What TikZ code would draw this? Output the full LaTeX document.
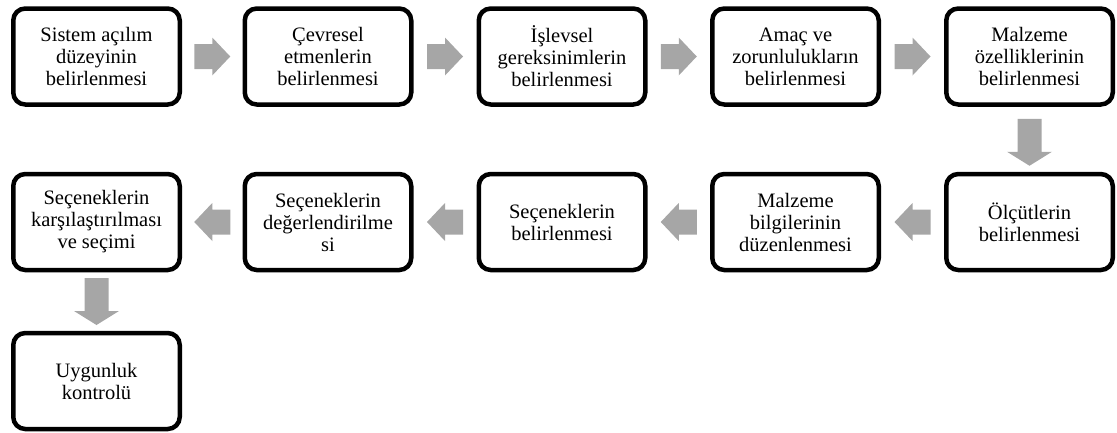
\documentclass[tikz,border=0pt]{standalone}
\usepackage{fontspec}
\setmainfont{Liberation Serif}
\usetikzlibrary{calc}

\definecolor{arrowgray}{RGB}{166,166,166}

\tikzset{
  stepbox/.style={draw=black, line width=4.5pt, rounded corners=12pt,
    minimum width=166.5pt, minimum height=96pt, inner sep=0pt,
    align=center, font=\fontsize{20.5}{22}\selectfont, text=black},
  % block arrows centred on a coordinate
  rarrow/.pic={\fill[arrowgray] (-18,-12.5) -- (0,-12.5) -- (0,-19) -- (18,0)
      -- (0,19) -- (0,12.5) -- (-18,12.5) -- cycle;},
  larrow/.pic={\fill[arrowgray] (18,-12.5) -- (0,-12.5) -- (0,-19) -- (-18,0)
      -- (0,19) -- (0,12.5) -- (18,12.5) -- cycle;},
  darrow/.pic={\fill[arrowgray] (-12,-23.5) -- (12,-23.5) -- (12,9.5) -- (22.5,9.5)
      -- (0,23.5) -- (-22.5,9.5) -- (-12,9.5) -- cycle;},
}

\begin{document}
\begin{tikzpicture}[x=1pt, y=-1pt]
  \useasboundingbox (0,0) rectangle (1117,432);

  % first row, left to right
  \node[stepbox] (s1) at (96.5,56.5) {Sistem açılım\\düzeyinin\\belirlenmesi};
  \node[stepbox] (s2) at (328,56.5) {Çevresel\\etmenlerin\\belirlenmesi};
  \node[stepbox] (s3) at (562,56.5) {İşlevsel\\gereksinimlerin\\belirlenmesi};
  \node[stepbox] (s4) at (795.5,56.5) {Amaç ve\\zorunlulukların\\belirlenmesi};
  \node[stepbox] (s5) at (1029.5,56.5) {Malzeme\\özelliklerinin\\belirlenmesi};

  % second row, right to left
  \node[stepbox] (s6) at (1029.5,222) {Ölçütlerin\\belirlenmesi};
  \node[stepbox] (s7) at (795.5,222) {Malzeme\\bilgilerinin\\düzenlenmesi};
  \node[stepbox] (s8) at (562,222) {Seçeneklerin\\belirlenmesi};
  \node[stepbox] (s9) at (328,222) {Seçeneklerin\\değerlendirilme\\si};
  \node[stepbox] (s10) at (96.5,222) {Seçeneklerin\\karşılaştırılması\\ve seçimi};

  % last step
  \node[stepbox] (s11) at (96.5,381) {Uygunluk\\kontrolü};

  % arrows between the steps
  \pic at ($(s1.east)!0.5!(s2.west)$) {rarrow};
  \pic at ($(s2.east)!0.5!(s3.west)$) {rarrow};
  \pic at ($(s3.east)!0.5!(s4.west)$) {rarrow};
  \pic at ($(s4.east)!0.5!(s5.west)$) {rarrow};
  \pic at ($(s5.south)!0.5!(s6.north)+(0,3)$) {darrow};
  \pic at ($(s6.west)!0.5!(s7.east)$) {larrow};
  \pic at ($(s7.west)!0.5!(s8.east)$) {larrow};
  \pic at ($(s8.west)!0.5!(s9.east)$) {larrow};
  \pic at ($(s9.west)!0.5!(s10.east)$) {larrow};
  \pic at ($(s10.south)!0.5!(s11.north)$) {darrow};
\end{tikzpicture}
\end{document}
